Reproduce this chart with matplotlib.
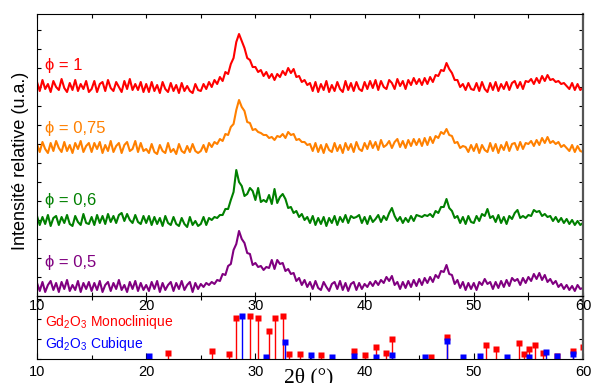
import numpy as np
import matplotlib.pyplot as plt
from matplotlib.ticker import MultipleLocator, NullFormatter

plt.rcParams['font.family'] = ['Liberation Sans', 'DejaVu Sans']
plt.rcParams['mathtext.fontset'] = 'custom'
plt.rcParams['mathtext.rm'] = 'Liberation Sans'

# 2theta sampling, 0.25 deg steps (10 -> 60)
two_theta = np.arange(10, 60.001, 0.25)

# intensities above each trace baseline (u.a.)
phi_1 = [4, -5, 6, -3, 2, -6, 5, -1, -4, 7, -2, -6, 3, -4, 6, -5, 2, -3, 5, -6,
         -3, 5, -6, 2, 4, -5, 6, -2, -5, 4, -1, -6, 5, -3, 7, -4, 2, -4, 4, -6,
         2, -6, 4, -5, 1, -7, 4, -3, -6, 3, -5, 1, -7, 3, -5, 0, -5, -7, 2, -4,
         -5, 2, -3, 4, -1, 6, 2, 9, 5, 14, 12, 22, 28, 44, 52, 45, 38, 28, 26, 19,
         19, 14, 16, 10, 14, 8, 12, 6, 12, 9, 15, 11, 18, 13, 17, 9, 10, 4, 6, 1,
         3, -5, 4, -6, 2, -4, 5, -6, 1, -5, 4, -3, -6, 5, -4, 3, -5, 4, -3, -5,
         4, -3, 5, -2, 6, -4, 5, -1, -3, 6, 3, -3, 7, 0, 5, -3, 6, 1, 8, 2,
         7, 1, 8, 2, 9, 4, 11, 10, 16, 15, 23, 17, 13, 6, 6, -1, 2, -4, 3, -3,
         -4, 3, -5, 4, -3, -6, 3, -4, 4, -5, 2, -3, 4, -4, 3, 5, -2, 4, -3, 5,
         4, 7, 2, 8, 3, 10, 5, 11, 6, 7, 4, 5, 2, 3, 0, -3, 3, -4, 2, -4,
         -2]
phi_075 = [3, -5, 5, -2, -6, 4, -4, 6, -1, -5, 5, -4, 2, -6, 4, -2, 6, -5, 1, 4,
           -5, 4, -2, 5, -6, 2, -4, 6, -5, 1, 4, -6, 2, 5, -4, -2, 6, -5, 4, -4,
           -2, -6, 3, -5, -7, 2, -4, -6, 4, -5, -2, -7, 3, -4, -6, 1, -5, 3, -4, -6,
           -4, 2, -5, 4, 0, 5, 3, 8, 6, 13, 12, 20, 23, 37, 47, 40, 36, 25, 24, 17,
           18, 15, 14, 12, 12, 9, 10, 7, 11, 10, 13, 9, 15, 12, 13, 7, 8, 5, 5, 2,
           3, -4, 4, -5, 2, -6, 3, -3, -5, 4, -4, 2, -6, 4, -3, 3, -5, 5, -2, -4,
           4, -2, 6, -1, 5, -3, 7, 0, 2, 6, -1, 5, 8, 0, 6, -1, 7, 1, 8, 2,
           8, 1, 9, 2, 10, 4, 11, 9, 15, 13, 18, 12, 11, 4, 5, -1, 1, 0, -5, 2,
           -4, 3, -6, 2, -3, -5, 4, -4, 3, -6, 2, -3, 5, -4, 3, 4, -3, 5, -2, 4,
           3, 6, 1, 7, 2, 9, 4, 10, 4, 6, 3, 5, 0, 2, -1, -4, 2, -5, 1, -4,
           -5]
phi_06 = [4, -5, 3, -4, 5, -6, 2, 4, -5, 3, -3, 5, -4, -6, 4, -2, -5, 6, -3, -4,
          3, -5, 5, -3, 4, -4, 6, -2, 4, -3, 5, 7, -1, 6, 0, -3, 5, -2, -4, 4,
          -3, 4, -5, 3, -4, 2, -6, 4, -3, -5, 3, -4, -6, 2, -4, -7, 3, -5, -1, -6,
          -4, 3, -5, 2, 0, 3, 2, 5, 5, 11, 11, 20, 28, 50, 38, 34, 24, 26, 32, 29,
          20, 32, 18, 20, 18, 25, 16, 31, 17, 23, 26, 21, 12, 13, 7, 9, 3, 6, 0, 3,
          -3, 4, -5, 2, -4, 3, -6, 2, -3, 4, -5, 3, -2, 5, -3, 4, 2, 3, 5, -3,
          3, -4, 4, -2, 1, 5, -2, 4, 0, 7, 12, 4, -1, 3, -3, 2, -2, 4, -1, 5,
          4, 3, 5, 4, 6, 3, 9, 7, 13, 13, 21, 12, 9, 2, 4, -3, 3, -4, 4, -2,
          -3, 4, -1, 6, 4, 11, 2, 4, -2, 5, -3, 3, -4, 4, 1, 7, 10, 2, 4, 2,
          5, 4, 10, 8, 9, 4, 6, 3, 4, -1, 3, -2, 2, -3, 1, -4, 0, -5, -1, -5,
          -3]
phi_05 = [3, -5, 4, -6, 1, 5, -4, 3, -6, 4, -3, 6, -5, 1, -4, 5, -6, 3, -3, 4,
          -5, 3, -4, 5, -6, 1, 4, -5, 3, -3, 6, -4, 1, -6, 4, -3, 5, -5, 3, -4,
          1, -5, 4, -3, 5, -6, 3, -4, 1, 4, -5, 3, -3, 5, -4, 1, 4, -6, 3, -3,
          2, -1, 3, 1, 4, 2, 6, 5, 12, 11, 20, 22, 36, 42, 55, 47, 43, 33, 32, 21,
          23, 19, 20, 16, 19, 18, 26, 17, 26, 22, 23, 15, 17, 12, 13, 5, 8, 1, 6, -1,
          4, -3, 5, -2, -4, 4, -1, -5, 2, 4, -3, 5, -4, 3, -5, 2, 4, -4, 3, -3,
          2, -1, 4, 0, 5, 1, 6, 3, 9, 5, 10, 1, 4, -3, 4, -2, 5, -1, 6, 0,
          7, 1, 8, 3, 9, 4, 11, 8, 15, 14, 21, 12, 11, 2, 6, -2, 4, -4, 3, -3,
          3, -4, 4, 1, 7, 2, 4, -3, 4, -2, 5, -1, 6, 0, 8, 5, 7, 1, 8, 3,
          9, 5, 12, 7, 13, 6, 11, 4, 7, 2, 5, -1, 2, -3, 1, -4, 0, -5, 1, -3,
          -2]

series = [phi_1, phi_075, phi_06, phi_05]
labels = ["ϕ = 1", "ϕ = 0,75", "ϕ = 0,6", "ϕ = 0,5"]
colors = ["#ff0000", "#ff8000", "#008000", "#800080"]
offsets = [210, 149, 76, 10]
label_y = [231, 168, 95, 33]

# reference patterns (Gd2O3)
mono_pos = [22.0, 26.0, 27.55, 28.2, 29.5, 30.2, 31.2, 31.8, 32.5, 33.05, 34.1,
            36.05, 39.05, 40.05, 41.05, 42.0, 42.55, 46.1, 47.55, 51.1, 52.05,
            54.1, 54.6, 55.05, 55.6, 56.3, 57.6, 59.1, 60.0]
mono_int = [6, 8, 5, 41, 43, 41, 28, 41, 43, 5, 5, 4, 8, 4, 12, 6, 20, 2, 22,
            14, 10, 16, 5, 10, 14, 6, 3, 8, 12]
cub_pos = [20.25, 28.75, 30.95, 32.75, 35.1, 37.05, 39.05, 41.05, 42.55, 45.55,
           47.55, 49.05, 50.55, 53.05, 55.05, 56.6, 57.6, 59.1]
cub_int = [3, 43, 2, 17, 4, 2, 3, 2, 4, 2, 18, 2, 3, 2, 2, 7, 3, 5]

for y in series:
    assert len(y) == len(two_theta), len(y)

fig = plt.figure(figsize=(5.92, 3.83), dpi=100)
# lower panel first so the upper panel's tick labels sit on top of it
ax2 = fig.add_axes([0.0625, 0.0627, 0.9223, 0.1645])
ax = fig.add_axes([0.0625, 0.2272, 0.9223, 0.7362])
ax.patch.set_alpha(0)

for y, lab, c, off, ly in zip(series, labels, colors, offsets, label_y):
    ax.plot(two_theta, np.array(y) + off, color=c, lw=1.5)
    ax.text(10.75, ly, lab, color=c, fontsize=12, va='center', ha='left')

ax.set_xlim(10, 60)
ax.set_ylim(0, 282)
ax.xaxis.set_major_locator(MultipleLocator(10))
ax.xaxis.set_minor_locator(MultipleLocator(5))
ax.yaxis.set_major_locator(MultipleLocator(19))
ax.yaxis.set_major_formatter(NullFormatter())
ax.tick_params(axis='x', which='both', direction='in', top=True, length=3,
               width=0.8, labelsize=10.5, pad=2)
ax.tick_params(axis='y', direction='in', right=True, length=3, width=0.8)
ax.set_ylabel("Intensité relative (u.a.)", fontsize=13)
ax.yaxis.set_label_coords(-0.0147, 0.479)
ax.spines['right'].set_linewidth(1.6)
ax.spines['right'].set_color('#555555')

ax2.vlines(mono_pos, 0, mono_int, color='#ff0000', lw=1)
ax2.plot(mono_pos, mono_int, 's', color='#ff0000', ms=4.2, mec='none')
ax2.vlines(cub_pos, 0, cub_int, color='#0000ff', lw=1)
ax2.plot(cub_pos, cub_int, 's', color='#0000ff', ms=4.2, mec='none')
ax2.text(10.75, 37, r"Gd$_\mathregular{2}$O$_\mathregular{3}$ Monoclinique",
         color='#ff0000', fontsize=10, va='center')
ax2.text(10.75, 15, r"Gd$_\mathregular{2}$O$_\mathregular{3}$ Cubique",
         color='#0000ff', fontsize=10, va='center')
ax2.set_xlim(10, 60)
ax2.set_ylim(0, 63)
ax2.xaxis.set_major_locator(MultipleLocator(10))
ax2.xaxis.set_minor_locator(MultipleLocator(5))
ax2.yaxis.set_major_locator(MultipleLocator(20))
ax2.yaxis.set_major_formatter(NullFormatter())
ax2.tick_params(axis='x', which='both', direction='in', top=True,
                labelsize=10.5, pad=4, width=0.8)
ax2.tick_params(axis='x', which='major', length=4)
ax2.tick_params(axis='x', which='minor', length=3)
ax2.tick_params(axis='y', direction='in', right=True, length=3, width=0.8)
ax2.spines['right'].set_linewidth(1.6)
ax2.spines['right'].set_color('#555555')

fig.text(0.522, 0.04, "2θ (°)", fontsize=15.5,
         family=['Liberation Serif', 'DejaVu Serif'], ha='center', va='top')

fig.savefig("out.png", dpi=100)
